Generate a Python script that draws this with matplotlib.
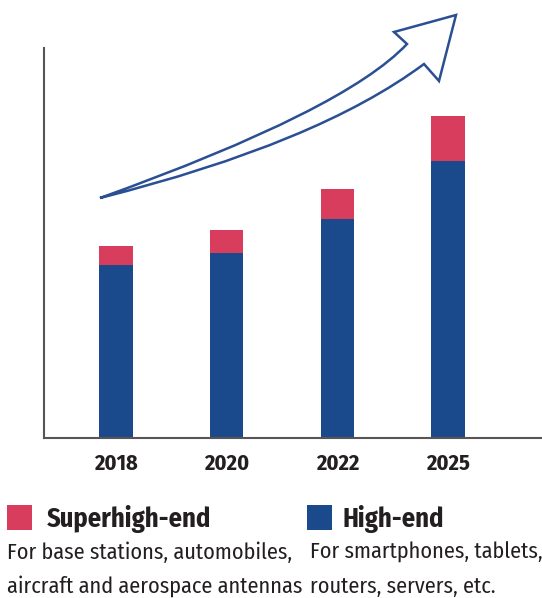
import matplotlib
matplotlib.use("Agg")
import matplotlib.pyplot as plt
from matplotlib.patches import Rectangle, PathPatch
from matplotlib.path import Path

years = ["2018", "2020", "2022", "2025"]
high_end = [173, 185, 219, 277]
superhigh_end = [19, 23, 30, 45]

PINK = "#D93D5E"
BLUE = "#1B4A8C"
FONT = ["Fira Sans Condensed", "DejaVu Sans"]
plt.rcParams['font.family'] = FONT
TXT = "#231f20"

W, H = 542, 598
fig = plt.figure(figsize=(W/100, H/100), dpi=100)

def fx(px):
    return px / W
def fy(py):
    return 1 - py / H

ax = fig.add_axes([fx(44), fy(437.7), fx(542 - 44), fy(48) - fy(437.7)])
x = list(range(len(years)))
ax.bar(x, high_end, width=0.30, color=BLUE, zorder=2)
ax.bar(x, superhigh_end, bottom=high_end, width=0.30, color=PINK, zorder=2)
ax.set_xlim(-0.65, 3.85)
ax.set_ylim(0, 390)
ax.set_xticks(x)
ax.set_xticklabels(years, fontsize=16, fontweight="bold", color=TXT)
ax.tick_params(axis="x", length=0, pad=11)
ax.set_yticks([])
for s in ["top", "right"]:
    ax.spines[s].set_visible(False)
for s in ["left", "bottom"]:
    ax.spines[s].set_color("#5a5555")
    ax.spines[s].set_linewidth(1.5)

# decorative hollow arrow (pixel coordinates)
def P(px, py):
    return (fx(px), fy(py))
verts = [P(100, 198),
         P(345, 110), P(407, 44),   # upper curve
         P(394, 32), P(456, 15), P(439, 81), P(424, 64),
         P(318, 143), P(100, 198)]  # lower curve
codes = [Path.MOVETO, Path.CURVE3, Path.CURVE3,
         Path.LINETO, Path.LINETO, Path.LINETO, Path.LINETO,
         Path.CURVE3, Path.CURVE3]
arrow = PathPatch(Path(verts, codes), facecolor="none", edgecolor="#2a4f93",
                  linewidth=1.8, transform=fig.transFigure, joinstyle="miter")
fig.patches.append(arrow)

# legend
fig.patches.append(Rectangle((fx(7), fy(530)), fx(25), fy(505) - fy(530),
                             facecolor=PINK, edgecolor="none", transform=fig.transFigure))
fig.patches.append(Rectangle((fx(307), fy(530)), fx(25), fy(505) - fy(530),
                             facecolor=BLUE, edgecolor="none", transform=fig.transFigure))
fig.text(fx(47), fy(527), "Superhigh-end", fontsize=19, fontweight="bold",
         color=TXT, va="baseline", ha="left")
fig.text(fx(342), fy(527), "High-end", fontsize=19, fontweight="bold",
         color=TXT, va="baseline", ha="left")
fig.text(fx(7), fy(559), "For base stations, automobiles,", fontsize=16,
         color=TXT, va="baseline", ha="left")
fig.text(fx(7), fy(593), "aircraft and aerospace antennas", fontsize=16,
         color=TXT, va="baseline", ha="left")
fig.text(fx(310), fy(559), "For smartphones, tablets,", fontsize=16,
         color=TXT, va="baseline", ha="left")
fig.text(fx(310), fy(593), "routers, servers, etc.", fontsize=16,
         color=TXT, va="baseline", ha="left")

fig.savefig("out.png", dpi=100)
